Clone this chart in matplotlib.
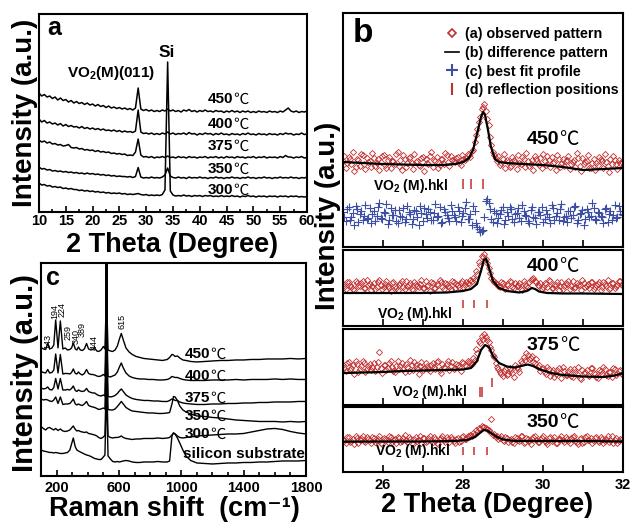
import matplotlib
matplotlib.use("Agg")

import matplotlib.pyplot as plt
import numpy as np
from matplotlib.lines import Line2D
from matplotlib.ticker import MultipleLocator

plt.rcParams["font.family"] = ["Liberation Sans", "DejaVu Sans"]
plt.rcParams["font.weight"] = "bold"
plt.rcParams["axes.labelweight"] = "bold"
plt.rcParams["mathtext.fontset"] = "custom"
plt.rcParams["mathtext.rm"] = "Liberation Sans"
plt.rcParams["mathtext.bf"] = "Liberation Sans:bold"
plt.rcParams["mathtext.it"] = "Liberation Sans:italic"

ROJO = "#c03030"
AZUL = "#3c4fa5"
FUENTE_GRADOS = ["Noto Sans CJK SC", "DejaVu Sans"]

# ---------------- (a) XRD de las películas ----------------
TEMPS_A = ["450", "400", "375", "350", "300"]
DOS_THETA_A = np.linspace(10, 60, 101)
XRD_450 = [
    119, 116, 117.5, 115, 116, 113.5, 115, 112, 114, 111.5,
    112.5, 110, 111.5, 109, 110.5, 108.5, 109.5, 107.5, 109, 107,
    108, 106, 107.5, 105.5, 106.5, 104.5, 106, 104, 105, 103.5,
    104.5, 103, 104, 102.5, 103.5, 102, 104, 124, 103, 101.5,
    102.5, 101, 102, 100.5, 101.5, 100.5, 102, 101, 103, 101,
    102, 100.5, 101.5, 100, 102, 101, 102.5, 100.5, 101.5, 100,
    101.5, 100.5, 102, 100.5, 101, 100, 101.5, 100.5, 101, 99.5,
    101, 100, 101.5, 100, 101, 99.5, 101, 100, 101, 99.5,
    100.5, 99.5, 101, 100, 100.5, 99.5, 101, 100, 100.5, 99.5,
    101, 100, 102, 104, 101, 100, 101, 99.5, 100.5, 100,
    101]
XRD_400 = [
    93, 90, 91.5, 89, 90, 88, 89, 87, 88.5, 86,
    87.5, 85.5, 86.5, 85, 85.5, 84, 85.5, 83.5, 84.5, 83,
    84, 82.5, 83.5, 82, 83, 81.5, 82, 81, 82, 80.5,
    81.5, 80, 81, 80, 80.5, 79.5, 81, 102, 80, 78.5,
    79, 78, 79, 77.5, 78.5, 77.5, 79, 78, 80, 78,
    79, 77.5, 78.5, 78, 79, 77.5, 79.5, 78, 78.5, 77,
    78.5, 77.5, 79, 78, 78.5, 77, 78.5, 77.5, 79, 77.5,
    78, 77, 78.5, 77.5, 78, 77, 78.5, 77.5, 79, 77.5,
    78, 77, 78.5, 77.5, 78, 77, 78.5, 77.5, 78, 77,
    78.5, 77.5, 79, 78, 78.5, 77, 78, 77.5, 79, 77.5,
    78]
XRD_375 = [
    72, 70, 71, 69, 70, 68, 68.5, 67, 67.5, 66,
    66.5, 67.5, 64.5, 64, 64.5, 63, 63.5, 62, 62.5, 61.5,
    62, 60.5, 61.5, 60, 60.5, 59.5, 60, 58.5, 59, 58,
    58.5, 57.5, 58, 56.5, 57, 56.5, 60, 73, 57, 55,
    55.5, 54.5, 55.5, 54, 55, 54.5, 55.5, 54.5, 56, 54.5,
    55, 54, 55.5, 54.5, 55, 54, 55.5, 54.5, 55, 54,
    55, 54.5, 55.5, 54, 55, 54.5, 55.5, 54, 55, 54,
    55.5, 54.5, 55, 54, 55.5, 54.5, 55, 54, 55, 54.5,
    55.5, 54, 55, 54.5, 55.5, 54, 55, 54.5, 55, 54,
    55.5, 54.5, 56.5, 55, 55, 54, 55, 54.5, 55.5, 54,
    54.5]
XRD_350 = [
    45, 43, 43.5, 42, 42.5, 41, 41.5, 40.5, 41, 40,
    40.5, 39.5, 40, 39, 39.5, 38.5, 39, 38, 39, 38,
    38.5, 37.5, 38, 37, 37.5, 36.5, 37, 36, 36.5, 35.5,
    36, 35.5, 35.5, 35, 35.5, 34.5, 35.5, 44.5, 35, 34,
    34.5, 34, 35, 34, 34.5, 34, 35, 37, 44, 36,
    34.5, 34, 35, 34, 34.5, 33.5, 35, 34, 34.5, 34,
    35, 34, 34.5, 33.5, 34.5, 34, 35, 34, 34.5, 33.5,
    34.5, 34, 35, 34, 34.5, 33.5, 34.5, 34, 35, 34,
    34.5, 33.5, 34.5, 34, 35, 34, 34.5, 33.5, 34.5, 34,
    35, 34, 34.5, 34, 35, 34, 34.5, 33.5, 34.5, 34,
    35]
XRD_300 = [
    29, 27, 27.5, 26, 26.5, 25, 25.5, 24.5, 25, 23.5,
    24, 23, 23.5, 22.5, 22.5, 21.5, 22, 21, 21.5, 20.5,
    21, 20, 20.5, 19.5, 20, 19, 19.5, 18.5, 19, 18.5,
    19, 18, 18.5, 17.5, 18, 17.5, 18, 18.5, 17.5, 17,
    17.5, 16.5, 17, 16.5, 17, 16.5, 17.5, 22, 150, 21,
    17, 16, 16.5, 16, 17, 16, 16.5, 15.5, 16.5, 16,
    16.5, 15.5, 16.5, 16, 16.5, 15.5, 16, 15.5, 16.5, 15.5,
    16, 15.5, 16.5, 15.5, 16, 15, 16, 15.5, 16.5, 15.5,
    16, 15, 16, 15.5, 16, 15, 16, 15.5, 16, 15,
    16, 15.5, 16, 15, 16, 15.5, 16, 15, 15.5, 15,
    15.5]
XRD_A = [XRD_450, XRD_400, XRD_375, XRD_350, XRD_300]

# ---------------- (b) refinamiento ----------------
TEMPS_B = ["450", "400", "375", "350"]
DOS_THETA_B = np.linspace(25, 32, 101)
DOS_THETA_B2 = np.linspace(25.035, 31.965, 100)
OBS_450 = [
    86, 79, 90, 83, 76, 88, 81, 92, 78, 85,
    80, 89, 84, 77, 91, 82, 87, 79, 86, 93,
    81, 77, 88, 84, 90, 78, 85, 82, 89, 76,
    84, 91, 80, 86, 79, 88, 83, 92, 81, 87,
    85, 90, 82, 88, 89, 92, 96, 105, 118, 130,
    140, 136, 122, 102, 92, 86, 82, 88, 79, 85,
    81, 87, 78, 84, 90, 80, 86, 83, 77, 88,
    82, 79, 86, 91, 80, 84, 77, 88, 83, 81,
    87, 78, 85, 80, 89, 76, 83, 86, 79, 84,
    77, 82, 88, 79, 85, 75, 83, 87, 78, 84,
    80]
OBS_450_B = [
    91, 84, 88, 95, 80, 87, 93, 83, 89, 86,
    94, 81, 88, 85, 92, 79, 90, 86, 83, 95,
    87, 92, 80, 89, 84, 93, 86, 81, 90, 88,
    83, 95, 87, 90, 82, 88, 94, 85, 91, 86,
    89, 84, 92, 87, 93, 90, 97, 112, 125, 138,
    143, 128, 110, 95, 89, 91, 84, 93, 87, 80,
    90, 85, 92, 83, 88, 94, 81, 87, 91, 84,
    89, 93, 82, 87, 90, 85, 92, 80, 88, 86,
    91, 83, 87, 94, 81, 89, 85, 92, 79, 88,
    84, 90, 86, 93, 81, 88, 91, 83, 87, 85]
OBS_400 = [
    42, 37, 44, 39, 36, 43, 40, 45, 38, 41,
    36, 43, 39, 46, 37, 42, 40, 35, 44, 38,
    41, 45, 37, 40, 43, 36, 42, 39, 46, 38,
    40, 35, 43, 38, 41, 44, 37, 42, 39, 45,
    38, 41, 43, 39, 44, 42, 45, 46, 52, 61,
    69, 67, 58, 48, 44, 42, 39, 43, 37, 41,
    44, 38, 40, 43, 36, 42, 39, 46, 48, 44,
    40, 37, 43, 39, 45, 38, 41, 36, 44, 40,
    42, 37, 45, 39, 41, 36, 43, 40, 38, 44,
    39, 42, 36, 44, 40, 37, 43, 38, 41, 45,
    40]
OBS_400_B = [
    39, 44, 41, 37, 45, 40, 43, 38, 46, 42,
    40, 37, 44, 41, 39, 45, 38, 43, 40, 36,
    43, 39, 45, 41, 37, 44, 40, 42, 38, 45,
    41, 44, 38, 42, 46, 39, 43, 40, 37, 44,
    42, 39, 45, 41, 43, 46, 48, 55, 64, 70,
    72, 63, 53, 46, 43, 40, 44, 38, 42, 45,
    39, 43, 41, 37, 45, 40, 44, 47, 45, 41,
    43, 39, 42, 46, 38, 41, 44, 40, 37, 43,
    45, 40, 38, 43, 41, 46, 39, 42, 44, 37,
    41, 44, 39, 42, 46, 38, 43, 40, 45, 41]
OBS_375 = [
    40, 34, 43, 37, 31, 41, 36, 44, 33, 39,
    35, 42, 38, 53, 32, 40, 37, 44, 34, 39,
    36, 42, 33, 38, 45, 35, 40, 31, 43, 37,
    39, 34, 42, 36, 44, 32, 38, 41, 35, 43,
    37, 40, 34, 42, 39, 43, 41, 45, 52, 62,
    66, 68, 63, 55, 48, 38, 33, 29, 36, 31,
    35, 28, 38, 33, 42, 45, 50, 47, 43, 46,
    40, 36, 33, 38, 29, 35, 31, 37, 27, 34,
    30, 36, 28, 33, 38, 26, 32, 35, 29, 37,
    31, 27, 34, 38, 30, 33, 28, 36, 32, 35,
    30]
OBS_375_B = [
    37, 42, 35, 40, 44, 33, 39, 42, 36, 41,
    38, 34, 43, 37, 40, 35, 42, 38, 33, 44,
    39, 36, 41, 34, 40, 43, 37, 39, 35, 42,
    36, 40, 38, 43, 35, 41, 37, 44, 39, 36,
    41, 38, 43, 40, 44, 42, 47, 56, 64, 69,
    71, 65, 58, 50, 42, 36, 31, 34, 30, 37,
    32, 40, 36, 44, 48, 52, 46, 49, 42, 38,
    34, 37, 31, 36, 33, 28, 35, 32, 38, 30,
    34, 29, 36, 31, 27, 35, 33, 30, 37, 32,
    28, 35, 31, 36, 29, 33, 37, 30, 34, 31]
OBS_350 = [
    33, 29, 35, 31, 28, 34, 32, 36, 30, 33,
    29, 34, 31, 36, 28, 33, 30, 35, 32, 29,
    34, 31, 37, 30, 33, 28, 35, 32, 29, 34,
    31, 36, 30, 33, 28, 34, 32, 35, 30, 33,
    29, 34, 31, 36, 33, 35, 36, 38, 40, 43,
    45, 44, 42, 53, 38, 36, 34, 32, 35, 30,
    33, 29, 34, 31, 36, 30, 33, 28, 35, 32,
    30, 34, 31, 28, 35, 32, 29, 33, 36, 30,
    33, 29, 35, 31, 28, 34, 30, 36, 32, 29,
    34, 31, 35, 29, 33, 30, 36, 32, 29, 33,
    31]
OBS_350_B = [
    31, 35, 30, 33, 36, 29, 34, 31, 35, 32,
    35, 30, 33, 29, 34, 32, 36, 30, 33, 35,
    30, 34, 32, 35, 29, 33, 31, 36, 34, 30,
    34, 31, 35, 29, 33, 36, 30, 33, 35, 31,
    33, 30, 35, 33, 36, 37, 39, 42, 44, 46,
    45, 43, 40, 37, 35, 33, 36, 31, 34, 32,
    30, 35, 32, 36, 29, 34, 31, 33, 36, 30,
    33, 36, 30, 34, 31, 35, 29, 33, 32, 35,
    31, 34, 36, 30, 33, 29, 35, 32, 34, 31,
    35, 30, 33, 31, 36, 32, 29, 34, 31, 33]
CRUCES_450 = [
    35, 26, 40, 30, 22, 38, 33, 27, 42, 29,
    24, 36, 31, 44, 28, 34, 23, 39, 32, 26,
    37, 30, 25, 41, 33, 28, 36, 22, 34, 39,
    29, 35, 27, 43, 31, 24, 38, 32, 26, 36,
    30, 40, 25, 34, 45, 28, 22, 36, 20, 15,
    17, 46, 44, 28, 36, 24, 33, 40, 27, 31,
    38, 25, 34, 29, 42, 32, 26, 37, 30, 23,
    35, 40, 28, 33, 24, 39, 31, 27, 43, 30,
    25, 36, 32, 41, 27, 34, 22, 38, 30, 44,
    28, 35, 31, 24, 39, 33, 27, 42, 30, 36,
    32]
CRUCES_450_B = [
    30, 38, 27, 34, 41, 25, 36, 31, 28, 39,
    33, 26, 40, 29, 35, 43, 27, 32, 37, 24,
    31, 39, 28, 35, 23, 37, 30, 41, 26, 33,
    38, 27, 34, 30, 40, 25, 35, 29, 42, 32,
    26, 36, 31, 39, 28, 33, 41, 24, 18, 16,
    30, 48, 38, 25, 34, 29, 37, 23, 35, 40,
    28, 33, 39, 26, 36, 31, 24, 40, 29, 35,
    32, 25, 37, 30, 42, 27, 34, 38, 26, 31,
    36, 29, 40, 24, 33, 37, 28, 35, 31, 39,
    27, 34, 30, 38, 25, 36, 32, 29, 41, 33]
AJUSTE_450_X = [25.0, 25.5, 26.0, 26.5, 27.0, 27.5, 27.8, 28.0, 28.15, 28.25, 28.35, 28.45,
                28.5, 28.55, 28.62, 28.7, 28.8, 28.9, 29.1, 29.5, 30.0, 30.5, 31.0, 31.5, 32.0]
AJUSTE_450_Y = [85, 84, 83, 82.5, 82, 82, 83, 85, 89, 97, 113, 130,
                135, 132, 118, 100, 88, 85, 84, 83, 82, 80, 77, 78, 79]
AJUSTE_400_X = [25.0, 26.0, 27.0, 27.6, 28.0, 28.2, 28.35, 28.45, 28.52, 28.58, 28.65, 28.75,
                28.9, 29.1, 29.4, 29.6, 29.72, 29.8, 29.9, 30.1, 30.5, 31.0, 32.0]
AJUSTE_400_Y = [33, 33, 33, 33.5, 35, 37, 42, 55, 66, 67, 58, 45,
                38, 35, 33.5, 35, 38, 37, 34.5, 33, 32.5, 32.5, 32]
AJUSTE_375_X = [25.0, 25.5, 26.0, 26.5, 27.0, 27.5, 28.0, 28.2, 28.35, 28.45, 28.55, 28.65, 28.75,
                28.9, 29.1, 29.3, 29.5, 29.62, 29.75, 29.9, 30.2, 30.5, 31.0, 31.5, 31.8, 32.0]
AJUSTE_375_Y = [32, 32.5, 33, 34, 34.5, 35, 35.5, 37, 44, 55, 60, 58, 49,
                42, 38.5, 37.5, 39.5, 40.5, 39, 36, 32, 30, 28.5, 28, 29.5, 32]
AJUSTE_350_X = [25.0, 26.0, 27.0, 27.8, 28.1, 28.3, 28.42, 28.52, 28.6, 28.7, 28.85, 29.0,
                29.3, 30.0, 31.0, 32.0]
AJUSTE_350_Y = [30.3, 30.5, 30.5, 31, 32, 35, 39, 42, 41.5, 39, 35, 32.5,
                31, 31, 31, 30.5]
REFLEXIONES_450 = [28.0, 28.2, 28.5]
REFLEXIONES_400 = [28.0, 28.28, 28.6]
REFLEXIONES_375 = [28.43, 28.48, 28.73]
REFLEXIONES_350 = [28.0, 28.28, 28.6]
LEYENDA_B = ["(a) observed pattern", "(b) difference pattern",
             "(c) best fit profile", "(d) reflection positions"]

# ---------------- (c) Raman ----------------
TEMPS_C = ["450", "400", "375", "350", "300"]
RAMAN_X = [
    100, 115, 130, 143, 155, 170, 182, 194, 209, 224,
    240, 255, 270, 285, 296, 307, 320, 330, 340, 352,
    365, 378, 392, 405, 420, 432, 444, 458, 470, 485,
    500, 510, 516, 520, 524, 530, 545, 560, 575, 590,
    603, 615, 628, 645, 665, 685, 710, 735, 760, 790,
    820, 850, 880, 910, 925, 940, 950, 960, 975, 990,
    1010, 1030, 1060, 1100, 1150, 1200, 1250, 1300, 1350, 1400,
    1450, 1500, 1550, 1600, 1650, 1700, 1750, 1800]
RAMAN_450 = [
    128.5, 127, 126.5, 132.5, 127, 128, 131, 156, 128, 155,
    127, 128, 126, 126.5, 128, 133, 127, 126, 129, 126,
    125.5, 127, 132.5, 127, 126, 126.5, 128, 125, 124.5, 126,
    129.5, 127, 160, 300, 160, 126, 125, 124.5, 126, 130,
    137, 142.5, 136, 128, 124, 121.5, 119.5, 118.5, 117.5, 117,
    116.5, 116, 115.5, 116.5, 118.5, 121.5, 121, 119.5, 120, 118,
    116, 115.5, 114.5, 114, 114.5, 115, 115.5, 115.5, 116, 116,
    116.5, 116.5, 117, 117, 117, 117.5, 117, 117.5]
RAMAN_400 = [
    104.5, 103.5, 103, 106.5, 103, 103.5, 106, 122, 103, 121.5,
    102, 102.5, 102.5, 102, 103.5, 107, 102.5, 102, 104, 102,
    101, 102.5, 106.5, 102.5, 101.5, 101.5, 101, 100, 99.5, 100,
    101.5, 100, 140, 300, 140, 99.5, 99, 100, 101, 104,
    109, 113, 108, 103, 100, 98.5, 97.5, 97, 97, 96.5,
    96.5, 96, 96, 96.5, 97.5, 99.5, 99, 98.5, 98.5, 97.5,
    96.5, 96, 95.5, 95.5, 95.5, 96, 96, 96, 96.5, 96,
    96.5, 96.5, 96.5, 97, 96.5, 97, 96.5, 96.5]
RAMAN_375 = [
    88, 87, 87.5, 89, 86.5, 86, 88.5, 97.5, 87, 97.5,
    86, 86, 86.5, 86, 87.5, 90, 85.5, 84.5, 86, 85,
    84.5, 85, 87.5, 84.5, 83.5, 83, 83, 81.5, 80.5, 80,
    81, 80, 120, 300, 120, 79.5, 79, 79.5, 80.5, 82.5,
    85, 87, 84.5, 81, 79, 77.5, 76.5, 76, 75.5, 75.5,
    75, 75, 74.5, 74.5, 75.5, 77, 76.5, 75.5, 75.5, 74,
    73, 72.5, 72, 71.5, 71.5, 72, 72, 72.5, 72.5, 73,
    73, 73.5, 73.5, 74, 74, 74, 74.5, 74.5]
RAMAN_350 = [
    77, 76, 76.5, 76, 75, 74.5, 76, 79, 72.5, 79,
    71.5, 72, 72, 72.5, 74.5, 77, 72, 71, 72, 71,
    70.5, 72, 74.5, 70.5, 69.5, 69, 68.5, 67.5, 66.5, 67,
    68, 67, 110, 300, 110, 66.5, 66, 66, 67, 69.5,
    72, 74.5, 72, 68.5, 66.5, 65, 64.5, 64, 63.5, 63,
    63, 62.5, 62.5, 63, 63.5, 72, 79.5, 79, 75.5, 70,
    66, 64, 62, 60, 59.5, 58.5, 58, 57, 56, 55.5,
    55, 54.5, 54.5, 54.5, 54, 54.5, 54, 54.5]
RAMAN_300 = [
    49.5, 47.5, 46, 48, 48.5, 47, 46, 47.5, 45.5, 47,
    45, 44.5, 45, 46, 48, 50, 46.5, 45, 45.5, 44.5,
    44, 43.5, 44, 42.5, 42, 41.5, 41, 40, 38.5, 37.5,
    39, 40.5, 80, 300, 80, 40, 38.5, 38, 38.5, 38.5,
    39, 40, 38.5, 37.5, 37, 36.5, 37, 37, 37.5, 37.5,
    37.5, 38, 37.5, 38, 38.5, 41, 43, 42, 40, 38.5,
    38, 38.5, 39, 40, 40.5, 41, 41.5, 42, 42, 42.5,
    44, 45.5, 47, 47.5, 46.5, 44.5, 43, 42]
RAMAN_SUSTRATO = [
    26, 25, 24.5, 24, 23.5, 23.5, 23, 23.5, 23, 22.5,
    22.5, 23, 23.5, 26, 32, 38, 29, 26, 25, 24,
    23, 22, 21, 20.5, 19.5, 18.5, 17.5, 17, 16.5, 16.5,
    19, 21, 60, 300, 60, 20, 17, 14.5, 14, 14.5,
    14, 14.5, 15, 15.5, 15, 14, 13.5, 13.5, 14, 14,
    14, 14.5, 14, 14, 15, 40, 43, 42, 38, 33,
    26, 20, 15.5, 13, 12.5, 12, 12.5, 13, 13, 13.5,
    13.5, 14, 14, 14.5, 15, 15, 15, 15.5]
RAMAN_C = [RAMAN_450, RAMAN_400, RAMAN_375, RAMAN_350, RAMAN_300, RAMAN_SUSTRATO]
PICOS_RAMAN = ["143", "194", "224", "259", "340", "389", "444", "615"]


def etiqueta_temp(ax, x, y, temp, tam):
    """Número en negrita seguido del símbolo ℃ en trazo fino."""
    t = ax.text(x, y, temp, fontsize=tam, ha="left", va="center")
    ax.annotate("℃", xy=(1, 0.5), xycoords=t, ha="left", va="center",
                fontsize=tam, fontweight="normal", family=FUENTE_GRADOS)


def marco(ax, grosor=1.5):
    for lado in ax.spines.values():
        lado.set_linewidth(grosor)
    ax.set_yticks([])


def xlabel_base(ax, texto, x, y):
    """Coloca el título del eje x por su línea base."""
    ax.set_xlabel(texto, fontsize=19.5)
    ax.xaxis.label.set_va("baseline")
    ax.xaxis.set_label_coords(x, y)


def panel_a(fig):
    ax = fig.add_axes([0.0616, 0.5946, 0.4234, 0.3786])
    for y in XRD_A:
        ax.plot(DOS_THETA_A, y, color="black", lw=1.1)
    ax.set_xlim(10, 60)
    ax.set_ylim(0, 198)
    ax.set_xticks(range(10, 61, 5))
    ax.xaxis.set_minor_locator(MultipleLocator(2.5))
    ax.tick_params(axis="x", which="both", direction="in", labelsize=10.5, pad=1.5, width=1.2)
    ax.tick_params(axis="x", which="major", length=4)
    ax.tick_params(axis="x", which="minor", length=2.5)
    marco(ax)
    for temp, y in zip(TEMPS_A, [113, 88, 66, 43, 22]):
        etiqueta_temp(ax, 41.5, y, temp, 11)
    ax.text(33.9, 154.7, "Si", fontsize=12.5, ha="center", va="baseline")
    ax.text(15.2, 134.7, r"VO$_\mathbf{2}$(M)(011)", fontsize=11, ha="left", va="baseline")
    ax.text(0.03, 0.894, "a", transform=ax.transAxes, fontsize=18, va="baseline")
    xlabel_base(ax, "2 Theta (Degree)", 0.498, -0.202)
    ax.set_ylabel("Intensity (a.u.)", fontsize=20)
    ax.yaxis.set_label_coords(-0.005, 0.5)


def panel_b(fig):
    cajas = [(0.5277, 0.4474, 234), (0.3767, 0.1453, 76), (0.2256, 0.1453, 76), (0.0975, 0.1243, 65)]
    observados = [(OBS_450, OBS_450_B), (OBS_400, OBS_400_B),
                  (OBS_375, OBS_375_B), (OBS_350, OBS_350_B)]
    ajustes = [(AJUSTE_450_X, AJUSTE_450_Y), (AJUSTE_400_X, AJUSTE_400_Y),
               (AJUSTE_375_X, AJUSTE_375_Y), (AJUSTE_350_X, AJUSTE_350_Y)]
    reflexiones = [REFLEXIONES_450, REFLEXIONES_400, REFLEXIONES_375, REFLEXIONES_350]
    alturas_refl = [([58] * 3, [68] * 3), ([18] * 3, [26] * 3),
                    ([8, 8, 18], [18, 18, 27]), ([17] * 3, [25] * 3)]
    pos_temp = [108, 59, 60, 50]
    pos_hkl = [(25.75, 57), (25.85, 8.3), (26.22, 9.3), (25.8, 17)]
    estilo_obs = dict(ls="none", marker="D", ms=3.1, mfc="none", mec=ROJO, mew=0.6)
    estilo_cruz = dict(ls="none", marker="+", ms=5.5, color=AZUL, mew=0.8)
    ejes = []
    for k, (abajo, alto, ymax) in enumerate(cajas):
        ax = fig.add_axes([0.5419, abajo, 0.4423, alto])
        ax.plot(DOS_THETA_B, observados[k][0], **estilo_obs)
        ax.plot(DOS_THETA_B2, observados[k][1], **estilo_obs)
        if k == 0:
            ax.plot(DOS_THETA_B, CRUCES_450, **estilo_cruz)
            ax.plot(DOS_THETA_B2, CRUCES_450_B, **estilo_cruz)
        ax.plot(*ajustes[k], color="black", lw=1.6)
        ax.vlines(reflexiones[k], alturas_refl[k][0], alturas_refl[k][1], color=ROJO, lw=1.1)
        ax.text(*pos_hkl[k], r"VO$_\mathbf{2}$ (M).hkl", fontsize=10, ha="left", va="baseline")
        etiqueta_temp(ax, 29.6, pos_temp[k], TEMPS_B[k], 14)
        ax.set_xlim(25, 32)
        ax.set_ylim(0, ymax)
        ax.set_xticks([26, 28, 30, 32])
        ax.set_xticks([27, 29, 31], minor=True)
        ax.tick_params(axis="x", which="both", direction="in", length=5, width=1.2,
                       labelsize=10.5, pad=4, labelbottom=(k == 3))
        marco(ax)
        ejes.append(ax)

    manijas = [
        Line2D([], [], ls="none", marker="D", ms=4, mfc="none", mec=ROJO, mew=1.2),
        Line2D([], [], color="black", lw=1.2),
        Line2D([], [], ls="none", marker="+", ms=8, color=AZUL, mew=1.5),
        Line2D([], [], ls="none", marker="|", ms=8, color=ROJO, mew=1.5),
    ]
    ejes[0].legend(manijas, LEYENDA_B, loc="upper left", bbox_to_anchor=(0.364, 0.94),
                   frameon=False, fontsize=10.3, handlelength=1.0, handletextpad=0.4,
                   labelspacing=0.33, borderpad=0, borderaxespad=0)
    ejes[0].text(0.036, 0.876, "b", transform=ejes[0].transAxes, fontsize=24, va="baseline")
    xlabel_base(ejes[3], "2 Theta (Degree)", 0.514, -0.615)
    fig.text(0.5387, 0.587, "Intensity (a.u.)", rotation=90, ha="right", va="center",
             fontsize=20)


def panel_c(fig):
    ax = fig.add_axes([0.0648, 0.0899, 0.4186, 0.4073])
    for y in RAMAN_C:
        ax.plot(RAMAN_X, y, color="black", lw=1.0)
    ax.set_xlim(100, 1800)
    ax.set_ylim(0, 213)
    ax.set_xticks([200, 600, 1000, 1400, 1800])
    ax.xaxis.set_minor_locator(MultipleLocator(100))
    ax.tick_params(axis="x", which="both", direction="in", labelsize=10.5, pad=3.5, width=1.2)
    ax.tick_params(axis="x", which="major", length=4)
    ax.tick_params(axis="x", which="minor", length=3)
    marco(ax)
    pos_picos = [(146, 127), (187, 157), (232, 159), (275, 136),
                 (323, 132), (362, 139), (445, 126), (618, 147)]
    for texto, (x, y) in zip(PICOS_RAMAN, pos_picos):
        ax.text(x, y, texto, rotation=90, fontsize=6.5, fontweight="normal",
                ha="center", va="bottom")
    for temp, y in zip(TEMPS_C, [122, 100, 78, 60, 42]):
        etiqueta_temp(ax, 1024, y, temp, 11)
    ax.text(1011, 22, "silicon substrate", fontsize=11, ha="left", va="center")
    ax.text(0.02, 0.897, "c", transform=ax.transAxes, fontsize=18, va="baseline")
    xlabel_base(ax, "Raman shift  (cm⁻¹)", 0.502, -0.186)
    ax.set_ylabel("Intensity (a.u.)", fontsize=21)
    ax.yaxis.set_label_coords(-0.008, 0.484)


fig = plt.figure(figsize=(6.33, 5.23), dpi=100)
panel_a(fig)
panel_b(fig)
panel_c(fig)
fig.savefig("out.png", dpi=100)
plt.close(fig)
